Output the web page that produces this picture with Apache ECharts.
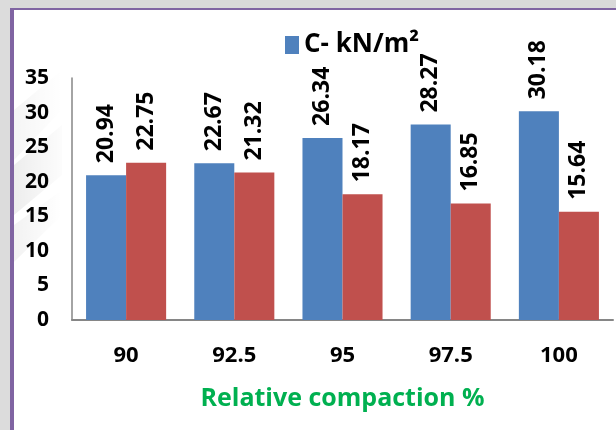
<!DOCTYPE html>
<html>
<head>
<meta charset="utf-8">
<script src="https://cdn.jsdelivr.net/npm/echarts@6/dist/echarts.min.js"></script>
<style>html,body{margin:0;padding:0;background:#fff}#c{width:616px;height:430px}</style>
</head>
<body>
<div id="c"></div>
<script>
const categories = ['90', '92.5', '95', '97.5', '100'];
const cohesion = [20.94, 22.67, 26.34, 28.27, 30.18];
const friction = [22.75, 21.32, 18.17, 16.85, 15.64];
const yTicks = [0, 5, 10, 15, 20, 25, 30, 35];
const seriesNames = ['C- kN/m\u00B2', '\u03C6 (degree)'];

const FONT = '"Open Sans", "Liberation Sans", sans-serif';
const chart = echarts.init(document.getElementById('c'), null, {renderer: 'canvas'});
const labelOpt = {
  show: true, position: 'top', rotate: 90, align: 'left', verticalAlign: 'middle',
  distance: 12, color: '#000', fontWeight: 'bold', fontSize: 23, fontFamily: FONT,
  formatter: p => p.value.toFixed(2)
};
chart.setOption({
  backgroundColor: '#ffffff',
  animation: false,
  graphic: [
    {type: 'rect', z: -10, shape: {x: 0, y: 0, width: 616, height: 9}, style: {fill: '#d9d9d9'}},
    {type: 'rect', z: -10, shape: {x: 0, y: 0, width: 10, height: 430}, style: {fill: '#dcdcdc'}},
    {type: 'polygon', z: -9, shape: {points: [[14, 110], [62, 70], [62, 110], [14, 160]]},
      style: {fill: {type: 'linear', x: 0, y: 0, x2: 1, y2: 0, colorStops: [{offset: 0, color: 'rgba(0,0,0,0.04)'}, {offset: 1, color: 'rgba(0,0,0,0)'}]}}},
    {type: 'polygon', z: -9, shape: {points: [[14, 165], [62, 125], [62, 175], [14, 215]]},
      style: {fill: {type: 'linear', x: 0, y: 0, x2: 1, y2: 0, colorStops: [{offset: 0, color: 'rgba(0,0,0,0.07)'}, {offset: 1, color: 'rgba(0,0,0,0.01)'}]}}},
    {type: 'polygon', z: -9, shape: {points: [[14, 225], [62, 190], [62, 215], [14, 262]]},
      style: {fill: {type: 'linear', x: 0, y: 0, x2: 1, y2: 0, colorStops: [{offset: 0, color: 'rgba(0,0,0,0.05)'}, {offset: 1, color: 'rgba(0,0,0,0)'}]}}},
    {type: 'rect', z: 10, shape: {x: 10, y: 8, width: 606, height: 2}, style: {fill: '#8064a2'}},
    {type: 'rect', z: 10, shape: {x: 10, y: 8, width: 4, height: 422}, style: {fill: '#8064a2'}}
  ],
  legend: {
    data: [seriesNames[0]],
    left: 280, top: 27,
    itemWidth: 14, itemHeight: 18, itemGap: 8,
    icon: 'rect',
    textStyle: {fontSize: 26, fontWeight: 'bold', color: '#000', fontFamily: FONT}
  },
  grid: {left: 72, right: 3, top: 78, bottom: 110, containLabel: false},
  xAxis: {
    type: 'category',
    data: categories,
    name: 'Relative compaction %',
    nameLocation: 'middle',
    nameGap: 79,
    nameTextStyle: {color: '#00b050', fontSize: 25, fontWeight: 'bold', fontFamily: FONT, verticalAlign: 'middle'},
    axisLine: {lineStyle: {color: '#868686', width: 2}},
    axisTick: {show: false},
    axisLabel: {color: '#000', fontSize: 22, fontWeight: 'bold', margin: 25, fontFamily: FONT}
  },
  yAxis: {
    type: 'value',
    min: 0, max: 35, interval: 5,
    axisLine: {show: true, lineStyle: {color: '#868686', width: 1.5}},
    axisTick: {show: false},
    splitLine: {show: false},
    axisLabel: {color: '#000', fontSize: 21, fontWeight: 'bold', margin: 23, fontFamily: FONT,
      formatter: v => yTicks.includes(v) ? String(v) : ''}
  },
  series: [
    {name: seriesNames[0], type: 'bar', data: cohesion, barGap: '0%', barCategoryGap: '26%',
      itemStyle: {color: '#4f81bd'}, label: labelOpt},
    {name: seriesNames[1], type: 'bar', data: friction, barGap: '0%', barCategoryGap: '26%',
      itemStyle: {color: '#c0504d'}, label: labelOpt}
  ]
});
</script>
</body>
</html>
